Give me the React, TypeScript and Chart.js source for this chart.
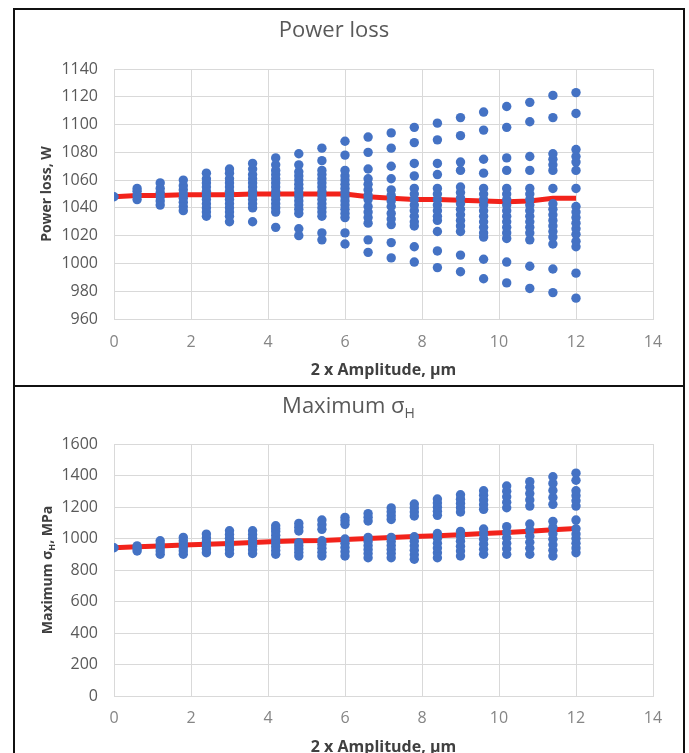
import React, { useEffect, useRef } from "react";
import { Chart, registerables } from "chart.js";

Chart.register(...registerables);

// ---------- data ----------
const amplitudes = [0, 0.6, 1.2, 1.8, 2.4, 3.0, 3.6, 4.2, 4.8, 5.4, 6.0, 6.6, 7.2, 7.8, 8.4, 9.0, 9.6, 10.2, 10.8, 11.4, 12.0];

const powerLossRuns = [
  [1048],
  [1046, 1049, 1052, 1054],
  [1042, 1045, 1048, 1051, 1054, 1058],
  [1038, 1041, 1044, 1047, 1050, 1053, 1056, 1060],
  [1034, 1037, 1040, 1043, 1046, 1049, 1052, 1055, 1058, 1061, 1065],
  [1030, 1034, 1037, 1040, 1043, 1046, 1049, 1052, 1055, 1058, 1061, 1065, 1068],
  [1030, 1040, 1043, 1046, 1049, 1052, 1055, 1058, 1061, 1064, 1068, 1072],
  [1026, 1037, 1040, 1043, 1046, 1049, 1052, 1055, 1058, 1061, 1064, 1067, 1071, 1076],
  [1020, 1025, 1036, 1039, 1042, 1045, 1048, 1051, 1054, 1057, 1060, 1063, 1066, 1071, 1079],
  [1017, 1022, 1034, 1037, 1040, 1043, 1046, 1049, 1052, 1055, 1058, 1061, 1064, 1067, 1074, 1083],
  [1014, 1022, 1033, 1036, 1039, 1042, 1045, 1048, 1051, 1054, 1057, 1060, 1063, 1067, 1078, 1088],
  [1008, 1017, 1029, 1033, 1037, 1041, 1046, 1049, 1053, 1057, 1061, 1068, 1080, 1091],
  [1004, 1015, 1028, 1032, 1036, 1041, 1045, 1049, 1053, 1061, 1070, 1083, 1094],
  [1001, 1012, 1027, 1030, 1034, 1038, 1042, 1046, 1050, 1054, 1063, 1072, 1087, 1098],
  [997, 1009, 1023, 1031, 1034, 1038, 1042, 1046, 1050, 1054, 1064, 1072, 1089, 1101],
  [994, 1006, 1023, 1027, 1031, 1035, 1039, 1043, 1047, 1051, 1055, 1067, 1073, 1092, 1105],
  [989, 1003, 1019, 1022, 1026, 1030, 1034, 1038, 1042, 1046, 1050, 1054, 1065, 1075, 1096, 1109],
  [986, 1001, 1018, 1022, 1026, 1030, 1034, 1038, 1042, 1046, 1050, 1054, 1067, 1076, 1098, 1113],
  [982, 998, 1017, 1022, 1026, 1030, 1034, 1038, 1042, 1046, 1050, 1054, 1067, 1077, 1102, 1116],
  [979, 996, 1014, 1019, 1023, 1027, 1031, 1035, 1039, 1043, 1054, 1067, 1071, 1075, 1079, 1105, 1121],
  [975, 993, 1012, 1016, 1021, 1025, 1029, 1033, 1037, 1041, 1054, 1067, 1073, 1077, 1082, 1108, 1123],
];

const powerLossMean = [1048, 1049, 1049, 1049.5, 1049.5, 1049.5, 1050, 1050, 1050, 1050, 1050, 1048, 1047, 1046, 1046, 1045.5, 1045, 1044.5, 1045, 1047, 1047];

const stressRuns = [
  [941],
  [921, 937, 953],
  [900, 921, 942, 964, 986],
  [900, 921, 942, 964, 986, 1007],
  [910, 933, 956, 980, 1004, 1028],
  [905, 929, 953, 977, 1001, 1025, 1049],
  [905, 929, 953, 977, 1001, 1025, 1049],
  [900, 924, 948, 972, 996, 1020, 1044, 1062, 1081],
  [889, 911, 933, 954, 974, 1048, 1072, 1096],
  [889, 913, 938, 962, 986, 1058, 1088, 1117],
  [889, 916, 943, 970, 997, 1090, 1112, 1134],
  [878, 904, 930, 955, 981, 1007, 1111, 1135, 1158],
  [878, 904, 930, 955, 981, 1007, 1121, 1145, 1170, 1194],
  [868, 897, 925, 954, 983, 1011, 1143, 1168, 1194, 1219],
  [878, 909, 940, 970, 1001, 1032, 1147, 1173, 1199, 1225, 1251],
  [889, 920, 951, 983, 1014, 1045, 1168, 1195, 1223, 1250, 1278],
  [900, 932, 964, 996, 1028, 1060, 1185, 1215, 1245, 1275, 1303],
  [900, 935, 970, 1005, 1040, 1075, 1195, 1230, 1265, 1300, 1333],
  [900, 938, 976, 1015, 1053, 1092, 1206, 1245, 1285, 1325, 1361],
  [889, 925, 960, 995, 1030, 1070, 1109, 1217, 1260, 1305, 1350, 1392],
  [910, 940, 970, 1000, 1028, 1062, 1117, 1206, 1240, 1272, 1303, 1370, 1415],
];

const stressMean = [941, 947, 952, 958, 964, 969, 975, 981, 986, 988, 994, 1000, 1006, 1012, 1018, 1024, 1031, 1038, 1046, 1055, 1064];

const powerAxis = { min: 960, max: 1140, step: 20 };
const stressAxis = { min: 0, max: 1600, step: 200 };
const amplitudeAxis = { min: 0, max: 14, step: 2 };

// ---------- styles ----------
const FONT = "'Open Sans', 'Liberation Sans', sans-serif";
const BLUE = "#4472C4";
const RED = "#F2231B";
const GRID = "#d9d9d9";

function toPoints(runs: number[][]) {
  const pts: { x: number; y: number }[] = [];
  runs.forEach((col, i) => col.forEach((v) => pts.push({ x: amplitudes[i], y: v })));
  return pts;
}

function toLine(vals: number[]) {
  return vals.map((v, i) => ({ x: amplitudes[i], y: v }));
}

type Seg = { text: string; size: number; weight: string; dy: number };

function drawSegs(ctx: CanvasRenderingContext2D, segs: Seg[], cx: number, cy: number, rot: number, color: string) {
  ctx.save();
  ctx.translate(cx, cy);
  ctx.rotate(rot);
  ctx.fillStyle = color;
  ctx.textBaseline = "alphabetic";
  ctx.textAlign = "left";
  let total = 0;
  const widths = segs.map((s) => {
    ctx.font = `${s.weight} ${s.size}px ${FONT}`;
    const w = ctx.measureText(s.text).width;
    total += w;
    return w;
  });
  const main = segs[0].size;
  const base = main * 0.36;
  let x = -total / 2;
  segs.forEach((s, i) => {
    ctx.font = `${s.weight} ${s.size}px ${FONT}`;
    ctx.fillText(s.text, x, base + s.dy);
    x += widths[i];
  });
  ctx.restore();
}

function makeConfig(opts: {
  runs: number[][];
  mean: number[];
  yAxis: { min: number; max: number; step: number };
  title?: string;
  yTitle?: string;
  xTickPad: number;
  xTitlePad: number;
  xHeight: number;
  topPad: number;
  extraPlugins: any[];
}) {
  return {
    type: "scatter" as const,
    data: {
      datasets: [
        {
          label: "runs",
          data: toPoints(opts.runs),
          pointRadius: 4.7,
          pointBackgroundColor: BLUE,
          pointBorderWidth: 0,
          backgroundColor: BLUE,
          showLine: false,
        },
        {
          label: "mean",
          data: toLine(opts.mean),
          showLine: true,
          pointRadius: 0,
          borderColor: RED,
          borderWidth: 5,
          tension: 0,
        },
      ],
    },
    options: {
      responsive: false,
      animation: false,
      devicePixelRatio: 1,
      events: [],
      layout: { padding: { left: 0, right: 29, top: opts.topPad, bottom: 0 } },
      plugins: {
        legend: { display: false },
        tooltip: { enabled: false },
        title: opts.title
          ? {
              display: true,
              text: opts.title,
              color: "#595959",
              font: { family: FONT, size: 22, weight: "normal" },
              padding: { top: 8, bottom: 24.6 },
            }
          : { display: false },
      },
      scales: {
        x: {
          type: "linear",
          min: amplitudeAxis.min,
          max: amplitudeAxis.max,
          ticks: {
            stepSize: amplitudeAxis.step,
            color: "#858585",
            padding: opts.xTickPad,
            font: { family: FONT, size: 16 },
            callback: (v: any) => String(v),
          },
          grid: { color: GRID, drawTicks: false, lineWidth: 1 },
          border: { color: GRID },
          title: {
            display: true,
            text: "2 x Amplitude, µm",
            color: "#404040",
            font: { family: FONT, size: 16, weight: "bold" },
            padding: { top: 0, bottom: opts.xTitlePad },
          },
          afterFit: (s: any) => {
            s.height = opts.xHeight;
          },
        },
        y: {
          type: "linear",
          min: opts.yAxis.min,
          max: opts.yAxis.max,
          ticks: {
            stepSize: opts.yAxis.step,
            color: "#595959",
            padding: 16,
            font: { family: FONT, size: 16 },
            callback: (v: any) => String(v),
          },
          grid: { color: GRID, drawTicks: false, lineWidth: 1 },
          border: { color: GRID },
          title: opts.yTitle
            ? {
                display: true,
                text: opts.yTitle,
                color: "#404040",
                font: { family: FONT, size: 14, weight: "bold" },
                padding: { top: 24, bottom: 0 },
              }
            : { display: false },
          afterFit: (s: any) => {
            s.width = 99;
          },
        },
      },
    },
    plugins: opts.extraPlugins,
  };
}

const stressLabelsPlugin = {
  id: "stressLabels",
  afterDraw(chart: any) {
    const ctx = chart.ctx as CanvasRenderingContext2D;
    drawSegs(
      ctx,
      [
        { text: "Maximum σ", size: 22, weight: "normal", dy: 0 },
        { text: "H", size: 14, weight: "normal", dy: 5 },
      ],
      chart.width / 2,
      17,
      0,
      "#595959"
    );
    const ca = chart.chartArea;
    drawSegs(
      ctx,
      [
        { text: "Maximum σ", size: 14, weight: "bold", dy: 0 },
        { text: "H", size: 9, weight: "bold", dy: 3 },
        { text: ", MPa", size: 14, weight: "bold", dy: 0 },
      ],
      chart.scales.y.left + 32,
      (ca.top + ca.bottom) / 2,
      -Math.PI / 2,
      "#404040"
    );
  },
};

function ChartCanvas({ config, top }: { config: any; top: number }) {
  const ref = useRef<HTMLCanvasElement | null>(null);
  useEffect(() => {
    if (!ref.current) return;
    const chart = new Chart(ref.current, config);
    return () => chart.destroy();
  }, [config]);
  return (
    <canvas
      ref={ref}
      width={667}
      height={375}
      style={{ position: "absolute", left: 15, top, width: 667, height: 375 }}
    />
  );
}

const powerConfig = makeConfig({
  runs: powerLossRuns,
  mean: powerLossMean,
  yAxis: powerAxis,
  title: "Power loss",
  yTitle: "Power loss, W",
  xTickPad: 13.4,
  xTitlePad: 5.4,
  xHeight: 66,
  topPad: 0,
  extraPlugins: [],
});

const stressConfig = makeConfig({
  runs: stressRuns,
  mean: stressMean,
  yAxis: stressAxis,
  xTickPad: 12.4,
  xTitlePad: 6.4,
  xHeight: 67,
  topPad: 56,
  extraPlugins: [stressLabelsPlugin],
});

export default function App() {
  return (
    <div
      style={{
        position: "fixed",
        left: 0,
        top: 0,
        width: 689,
        height: 753,
        background: "#ffffff",
        overflow: "hidden",
      }}
    >
      <div
        style={{
          position: "absolute",
          left: 13,
          top: 8,
          width: 672,
          height: 379,
          border: "2px solid #111",
          boxSizing: "border-box",
        }}
      />
      <div
        style={{
          position: "absolute",
          left: 13,
          top: 385,
          width: 672,
          height: 400,
          border: "2px solid #111",
          boxSizing: "border-box",
        }}
      />
      <ChartCanvas config={powerConfig} top={10} />
      <ChartCanvas config={stressConfig} top={388} />
    </div>
  );
}
